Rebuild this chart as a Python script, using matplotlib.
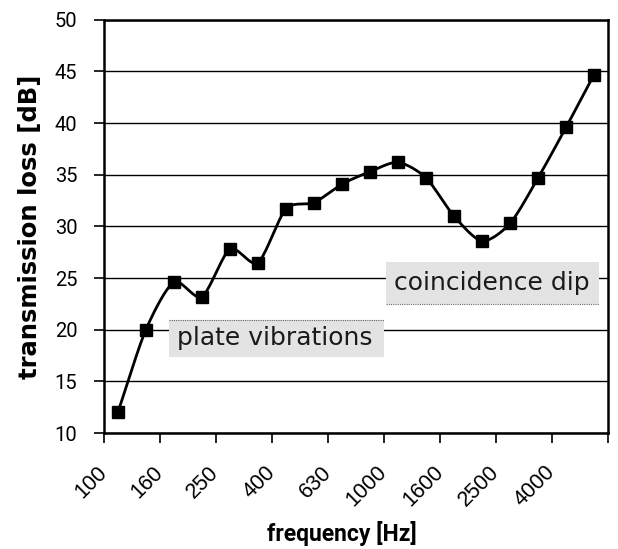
import numpy as np
import matplotlib.pyplot as plt
from matplotlib.patches import Rectangle
from matplotlib.transforms import ScaledTranslation

# 1/3 octave band centre frequencies and measured transmission loss
bands = ['100', '125', '160', '200', '250', '315', '400', '500', '630',
         '800', '1000', '1250', '1600', '2000', '2500', '3150', '4000', '5000']
tl = [12.0, 20.0, 24.6, 23.2, 27.8, 26.5, 31.7, 32.3, 34.1,
      35.3, 36.2, 34.7, 31.0, 28.6, 30.3, 34.7, 39.6, 44.7]
tick_labels = bands[::2]


def smooth(x, y, n=20, k=0.4):
    # cardinal spline through the points, like Excel's smoothed line
    x = np.asarray(x, float)
    y = np.asarray(y, float)
    px = np.concatenate([[2 * x[0] - x[1]], x, [2 * x[-1] - x[-2]]])
    py = np.concatenate([[2 * y[0] - y[1]], y, [2 * y[-1] - y[-2]]])
    t = np.linspace(0, 1, n)
    h00 = 2 * t**3 - 3 * t**2 + 1
    h10 = t**3 - 2 * t**2 + t
    h01 = -2 * t**3 + 3 * t**2
    h11 = t**3 - t**2
    xs, ys = [], []
    for i in range(1, len(px) - 2):
        for p, out in ((px, xs), (py, ys)):
            m1 = k * (p[i + 1] - p[i - 1])
            m2 = k * (p[i + 2] - p[i])
            out.extend(h00 * p[i] + h10 * m1 + h01 * p[i + 1] + h11 * m2)
    return xs, ys


fig = plt.figure(figsize=(6.18, 5.49), dpi=100)
ax = fig.add_axes([0.168, 0.211, 0.816, 0.753])

x = np.arange(len(bands))
sx, sy = smooth(x, tl)
ax.plot(sx, sy, color='black', lw=2.0, zorder=4)
ax.plot(x, tl, ls='none', marker='s', ms=8.5, color='black', zorder=5)

ax.set_xlim(-0.5, len(bands) - 0.5)
ax.set_ylim(10, 50)
ax.set_yticks(np.arange(10, 51, 5))
ax.yaxis.grid(True, color='black', lw=1.0)
ax.set_axisbelow(True)

ax.set_xticks(np.arange(-0.5, len(bands), 2))
ax.set_xticklabels(tick_labels + [''], rotation=45, ha='right', va='center',
                   rotation_mode='anchor', fontsize=15.5, family='Liberation Sans')
shift = ScaledTranslation(-6 / 72, 2 / 72, fig.dpi_scale_trans)
for lab in ax.get_xticklabels():
    lab.set_transform(lab.get_transform() + shift)
for lab in ax.get_yticklabels():
    lab.set_family('Roboto')
    lab.set_fontsize(14.5)
    lab.set_color('#222222')
ax.tick_params(axis='both', direction='out', length=7, width=1.2, colors='black')
ax.tick_params(axis='y', pad=12)
ax.tick_params(axis='x', pad=19)
for s in ax.spines.values():
    s.set_linewidth(1.8)

ax.set_xlabel('frequency [Hz]', fontsize=16.5, fontweight='bold',
              family='Roboto', va='top')
ax.xaxis.set_label_coords(0.472, -0.212)
ax.set_ylabel('transmission loss [dB]', fontsize=17.5, fontweight='bold')
ax.yaxis.set_label_coords(-0.123, 0.5)

# annotation boxes
boxes = [((0.129, 0.184), 0.427, 0.090, 'plate vibrations', 'top'),
         ((0.560, 0.312), 0.422, 0.102, 'coincidence dip', 'bottom')]
for (bx, by), bw, bh, txt, dotted in boxes:
    ax.add_patch(Rectangle((bx, by), bw, bh, transform=ax.transAxes,
                           facecolor='#e3e3e3', edgecolor='none', zorder=2))
    ly = by + bh if dotted == 'top' else by
    ax.plot([bx, bx + bw], [ly, ly], transform=ax.transAxes, color='#666666',
            lw=0.8, ls=(0, (1, 1)), zorder=3)
    ax.text(bx + 0.016, by + bh / 2, txt, transform=ax.transAxes, fontsize=18,
            family='DejaVu Sans', color='#1a1a1a',
            va='center', ha='left', zorder=3)

fig.savefig('out.png', dpi=100)
